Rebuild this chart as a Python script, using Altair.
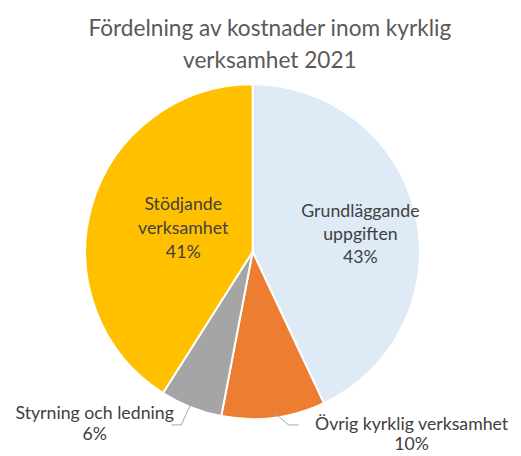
import altair as alt
import pandas as pd

# Data
categories = ["Grundläggande uppgiften", "Övrig kyrklig verksamhet", "Styrning och ledning", "Stödjande verksamhet"]
values = [43, 10, 6, 41]
colors = ["#DEEBF7", "#ED7D31", "#A5A5A5", "#FFC000"]
label_lines = [["Grundläggande", "uppgiften"], ["Övrig kyrklig verksamhet"], ["Styrning och ledning"], ["Stödjande", "verksamhet"]]
title_lines = ["Fördelning av kostnader inom kyrklig", "verksamhet 2021"]

df = pd.DataFrame({"kategori": categories, "andel": values, "ordning": list(range(len(values)))})

W, H = 513, 448
CX, CY, R = 248.5, 244, 170
FONT = "Lato"
TXT = "#404040"

pie = alt.Chart(df).mark_arc(radius=R, stroke="white", strokeWidth=2).encode(
    theta=alt.Theta("andel:Q", stack=True),
    order=alt.Order("ordning:Q"),
    color=alt.Color("kategori:N", scale=alt.Scale(domain=categories, range=colors), legend=None),
    x=alt.value(CX),
    y=alt.value(CY),
)

one = pd.DataFrame({"a": [0]})


def txt(lines, x, y, size, lh, color=TXT):
    return alt.Chart(one).mark_text(
        font=FONT, fontSize=size, lineHeight=lh, color=color, align="center", baseline="alphabetic"
    ).encode(x=alt.value(x), y=alt.value(y), text=alt.value(lines))


def seg(x1, y1, x2, y2):
    return alt.Chart(one).mark_rule(color="#A6A6A6", strokeWidth=1).encode(
        x=alt.value(x1), y=alt.value(y1), x2=alt.value(x2), y2=alt.value(y2)
    )


def lab(i):
    return label_lines[i] + [f"{values[i]}%"]


layers = [
    pie,
    txt(title_lines, 266, 25, 23, 32, "#595959"),
    txt(lab(0), 358, 209, 18, 23),
    txt(lab(3), 178, 202, 18, 24),
    txt(lab(2), 88, 414, 18, 21),
    txt(lab(1), 410, 425, 18, 20),
    seg(186, 398, 176, 420),
    seg(176, 420, 166, 420),
    seg(271, 408, 285, 420),
    seg(285, 420, 295, 420),
]

chart = alt.layer(*layers).properties(
    width=W, height=H, autosize=alt.AutoSizeParams(type="none"), padding=0
).configure_view(stroke=None)

chart.save("out.html", embed_options={"renderer": "svg", "actions": False})
